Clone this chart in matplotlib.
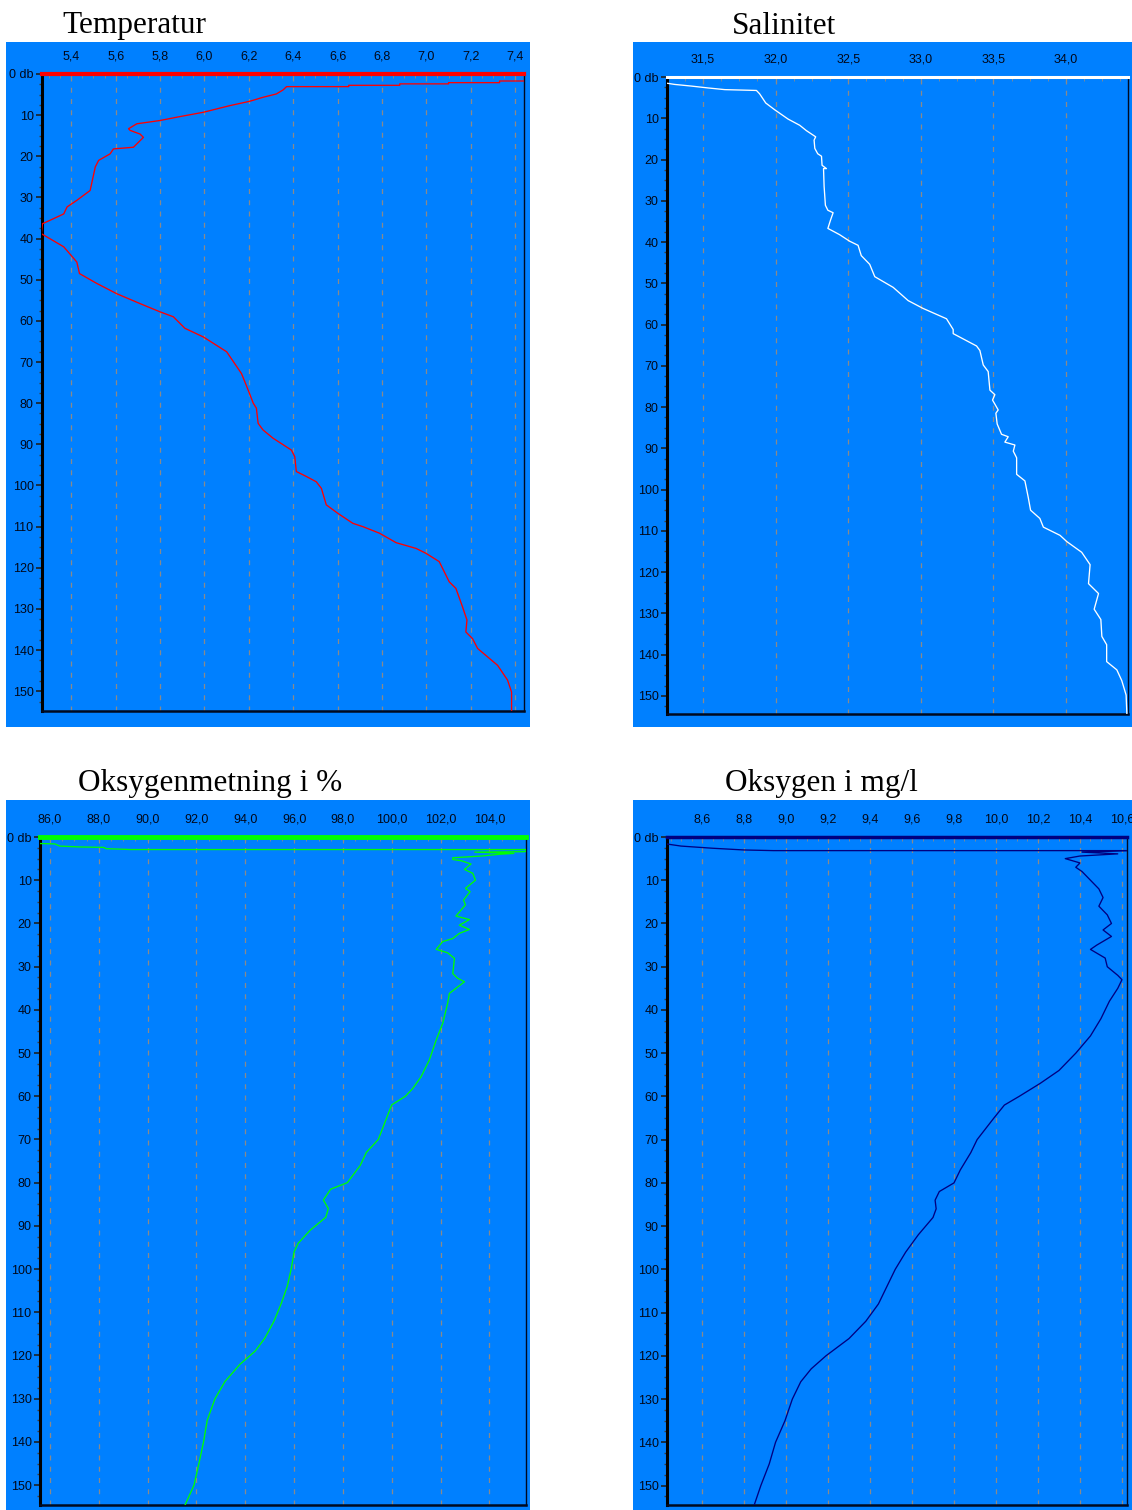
import matplotlib
matplotlib.use("Agg")
import matplotlib.pyplot as plt
from matplotlib import font_manager
from matplotlib.patches import Rectangle
from matplotlib.ticker import FixedLocator, FixedFormatter, MultipleLocator

# ---------------- data ----------------
temp_depth = [1.7, 1.7, 2.1, 2.1, 2.4, 2.4, 2.75, 2.75, 3.07, 3.07, 3.88, 4.85, 5.66, 6.63,
              7.68, 9.3, 10.5, 11.3, 12.1, 13.3, 13.7, 14.6, 15.4, 17.8, 18.2, 19.4, 21.0,
              22.6, 28.3, 30.7, 32.3, 34.0, 36.4, 38.8, 42.0, 45.7, 48.5, 50.9, 53.4, 55.8,
              57.8, 59.0, 61.8, 63.9, 67.5, 72.8, 76.8, 80.0, 81.2, 84.9, 86.5, 88.5, 91.4,
              93.0, 96.6, 97.8, 99.1, 100.7, 104.7, 106.8, 109.2, 110.0, 111.6, 113.9, 115.3,
              116.5, 118.5, 123.4, 125.0, 129.5, 132.7, 135.6, 137.2, 139.6, 143.7, 147.3,
              150.2, 155.0]
temp_value = [7.50, 7.33, 7.33, 7.10, 7.10, 6.88, 6.88, 6.65, 6.65, 6.37, 6.354, 6.324, 6.264,
              6.204, 6.115, 5.995, 5.875, 5.80, 5.695, 5.658, 5.665, 5.71, 5.725, 5.68, 5.59,
              5.575, 5.523, 5.508, 5.485, 5.425, 5.381, 5.366, 5.27, 5.265, 5.366, 5.425,
              5.437, 5.515, 5.605, 5.71, 5.80, 5.86, 5.912, 5.995, 6.10, 6.167, 6.197, 6.22,
              6.234, 6.242, 6.264, 6.309, 6.392, 6.407, 6.414, 6.459, 6.504, 6.527, 6.549,
              6.602, 6.669, 6.714, 6.789, 6.864, 6.954, 6.999, 7.058, 7.103, 7.133, 7.163,
              7.183, 7.178, 7.208, 7.231, 7.321, 7.366, 7.384, 7.384]

sal_depth = [1.5, 1.8, 2.2, 2.65, 3.06, 3.26, 4.08, 6.3, 7.95, 10.2, 11.7, 13.0, 14.5, 15.3,
             17.3, 18.6, 19.2, 21.4, 22.2, 22.2, 26.5, 31.1, 32.3, 32.9, 34.7, 36.7, 38.2,
             39.8, 40.8, 43.3, 45.4, 48.4, 51.0, 54.2, 56.1, 58.6, 61.2, 62.2, 65.2, 66.3,
             69.8, 71.4, 75.9, 77.0, 78.3, 80.7, 81.5, 84.1, 86.6, 87.2, 88.5, 89.2, 90.7,
             92.3, 96.3, 97.9, 101.9, 105.0, 107.0, 109.1, 111.1, 112.6, 115.2, 118.2, 122.8,
             125.2, 129.0, 131.5, 135.6, 137.6, 141.7, 143.7, 146.3, 149.8, 155.0]
sal_value = [31.25, 31.305, 31.42, 31.534, 31.65, 31.868, 31.89, 31.932, 31.994, 32.086,
             32.166, 32.212, 32.276, 32.265, 32.27, 32.29, 32.316, 32.32, 32.35, 32.33,
             32.334, 32.343, 32.36, 32.396, 32.378, 32.36, 32.44, 32.51, 32.568, 32.59,
             32.648, 32.683, 32.81, 32.913, 33.016, 33.177, 33.223, 33.223, 33.384, 33.407,
             33.43, 33.464, 33.476, 33.51, 33.494, 33.533, 33.517, 33.526, 33.556, 33.602,
             33.579, 33.648, 33.637, 33.66, 33.66, 33.717, 33.74, 33.756, 33.82, 33.844,
             33.959, 34.005, 34.108, 34.166, 34.155, 34.224, 34.194, 34.24, 34.247, 34.28,
             34.28, 34.35, 34.384, 34.414, 34.42]

oxs_depth = [1.5, 1.6, 2.1, 2.3, 2.4, 2.7, 2.9, 2.9, 3.4, 3.5, 3.8, 4.0, 4.4, 4.8, 5.2, 5.5,
             6.25, 7.5, 8.4, 10.0, 11.9, 12.65, 14.6, 15.7, 16.9, 18.3, 19.1, 20.4, 21.4,
             22.3, 23.5, 24.2, 26.0, 26.8, 28.1, 31.6, 32.7, 33.5, 36.2, 38.5, 43.1, 47.0,
             51.6, 55.5, 58.2, 60, 62, 64, 70, 73, 76, 80, 81.5, 84, 86, 88, 91, 94, 96,
             100, 104, 108, 112, 116, 119, 122, 126, 130, 135, 140, 145, 150, 155]
oxs_value = [85.55, 86.2, 86.4, 87.2, 88.2, 88.3, 89.3, 105.6, 105.45, 103.4, 105.0, 104.4,
             103.7, 102.5, 102.5, 102.85, 103.25, 102.98, 103.32, 103.43, 103.02, 103.21,
             102.94, 103.02, 102.84, 102.63, 103.18, 102.77, 103.18, 102.77, 102.5, 102.09,
             101.82, 102.29, 102.57, 102.5, 102.7, 102.98, 102.36, 102.29, 102.09, 101.82,
             101.54, 101.2, 100.86, 100.56, 100.0, 99.86, 99.45, 98.96, 98.71, 98.18, 97.5,
             97.2, 97.4, 97.3, 96.66, 96.17, 96.0, 95.88, 95.72, 95.47, 95.18, 94.8, 94.4,
             93.79, 93.17, 92.76, 92.44, 92.29, 92.1, 91.9, 91.5]

oxm_depth = [1.6, 2.1, 2.6, 3.0, 3.15, 3.15, 3.5, 3.9, 4.4, 5.0, 6, 7, 8, 10, 12, 14, 16, 18,
             20, 21.5, 23, 25, 26, 28, 30, 32, 33, 35, 38, 42, 46, 50, 54, 57, 60, 62, 65,
             70, 73, 77, 80, 82, 84, 86, 88, 92, 96, 100, 104, 108, 112, 116, 120, 123, 126,
             130, 135, 140, 145, 150, 155]
oxm_value = [8.43, 8.50, 8.65, 8.80, 8.94, 10.65, 10.41, 10.58, 10.40, 10.33, 10.40, 10.38,
             10.41, 10.45, 10.49, 10.51, 10.49, 10.53, 10.55, 10.51, 10.55, 10.48, 10.45,
             10.52, 10.53, 10.58, 10.60, 10.58, 10.54, 10.50, 10.45, 10.38, 10.30, 10.21,
             10.11, 10.04, 9.99, 9.91, 9.88, 9.83, 9.80, 9.73, 9.71, 9.715, 9.70, 9.63, 9.57,
             9.52, 9.48, 9.44, 9.38, 9.30, 9.19, 9.12, 9.07, 9.03, 8.995, 8.95, 8.92, 8.88,
             8.845]

temp_ticks = [5.4, 5.6, 5.8, 6.0, 6.2, 6.4, 6.6, 6.8, 7.0, 7.2, 7.4]
temp_labels = ["5,4", "5,6", "5,8", "6,0", "6,2", "6,4", "6,6", "6,8", "7,0", "7,2", "7,4"]
sal_ticks = [31.5, 32.0, 32.5, 33.0, 33.5, 34.0]
sal_labels = ["31,5", "32,0", "32,5", "33,0", "33,5", "34,0"]
oxs_ticks = [86, 88, 90, 92, 94, 96, 98, 100, 102, 104]
oxs_labels = ["86,0", "88,0", "90,0", "92,0", "94,0", "96,0", "98,0", "100,0", "102,0", "104,0"]
oxm_ticks = [8.6, 8.8, 9.0, 9.2, 9.4, 9.6, 9.8, 10.0, 10.2, 10.4, 10.6]
oxm_labels = ["8,6", "8,8", "9,0", "9,2", "9,4", "9,6", "9,8", "10,0", "10,2", "10,4", "10,6"]
depth_ticks = [0, 10, 20, 30, 40, 50, 60, 70, 80, 90, 100, 110, 120, 130, 140, 150]
depth_labels = ["0 db"] + [str(d) for d in depth_ticks[1:]]

titles = ["Temperatur", "Salinitet", "Oksygenmetning i %", "Oksygen i mg/l"]

# ---------------- style ----------------
W, H = 1132, 1510
BLUE = "#0080ff"
GRID = "#8a8a8a"
LABEL = "#00081a"

names = {f.name for f in font_manager.fontManager.ttflist}
TICKFONT = "Liberation Sans Narrow" if "Liberation Sans Narrow" in names else "Liberation Sans"
SERIF = "Liberation Serif" if "Liberation Serif" in names else "DejaVu Serif"
TICKSIZE = 10 if TICKFONT == "Liberation Sans Narrow" else 9

fig = plt.figure(figsize=(W / 100, H / 100), dpi=100)


def box(l, t, r, b):
    return [l / W, 1 - b / H, (r - l) / W, (b - t) / H]


def panel(bg, axb, title, title_pos, depth, values, xlim, ymax, ticks, labels, minor,
          color, toplw):
    fig.add_artist(Rectangle((bg[0] / W, 1 - bg[3] / H), (bg[2] - bg[0]) / W,
                             (bg[3] - bg[1]) / H, transform=fig.transFigure,
                             facecolor=BLUE, edgecolor="none", zorder=0))
    fig.text(title_pos[0] / W, 1 - title_pos[1] / H, title, family=SERIF,
             fontsize=22.5, ha="left", va="center", color="black")
    ax = fig.add_axes(box(*axb))
    ax.set_facecolor(BLUE)
    ax.plot(values, depth, color=color, lw=0.95, zorder=3)
    ax.set_xlim(*xlim)
    ax.set_ylim(ymax, 0)
    ax.xaxis.tick_top()
    ax.xaxis.set_major_locator(FixedLocator(ticks))
    ax.xaxis.set_major_formatter(FixedFormatter(labels))
    ax.xaxis.set_minor_locator(MultipleLocator(minor))
    ax.yaxis.set_major_locator(FixedLocator(depth_ticks))
    ax.yaxis.set_major_formatter(FixedFormatter(depth_labels))
    ax.yaxis.set_minor_locator(MultipleLocator(2.5))
    ax.tick_params(axis="x", which="major", direction="in", length=4, color=GRID,
                   pad=8, labelsize=TICKSIZE, labelcolor=LABEL)
    ax.tick_params(axis="x", which="minor", direction="in", length=3, color=GRID)
    ax.tick_params(axis="y", which="major", direction="out", length=4, width=1.2,
                   color="#202020", pad=2, labelsize=TICKSIZE, labelcolor=LABEL)
    ax.tick_params(axis="y", which="minor", direction="out", length=2.5, width=1,
                   color="#404040")
    for lab in ax.get_xticklabels() + ax.get_yticklabels():
        lab.set_family(TICKFONT)
    ax.grid(axis="x", which="major", color=GRID, linestyle=(0, (4, 5)), lw=0.9)
    ax.spines["left"].set_linewidth(2.2)
    ax.spines["left"].set_color("black")
    ax.spines["bottom"].set_linewidth(1.8)
    ax.spines["bottom"].set_color("#000a20")
    ax.spines["right"].set_linewidth(1.0)
    ax.spines["right"].set_color("#000a20")
    ax.spines["top"].set_color(color)
    ax.spines["top"].set_linewidth(toplw)
    ax.spines["top"].set_zorder(5)
    return ax


panel((6, 42, 530, 727), (42, 74, 524, 711), titles[0], (62, 26), temp_depth, temp_value,
      (5.268, 7.44), 154.8, temp_ticks, temp_labels, 0.05, "#ff0000", 3.0)
panel((633, 42, 1132, 727), (667, 77, 1128, 714), titles[1], (732, 26), sal_depth, sal_value,
      (31.252, 34.427), 154.4, sal_ticks, sal_labels, 0.125, "#ffffff", 2.2)
panel((6, 800, 530, 1510), (40, 837, 526, 1505), titles[2], (78, 784), oxs_depth, oxs_value,
      (85.59, 105.5), 154.6, oxs_ticks, oxs_labels, 0.5, "#00ff00", 3.5)
panel((633, 800, 1132, 1510), (667, 837, 1127, 1505), titles[3], (725, 784), oxm_depth,
      oxm_value, (8.433, 10.624), 154.5, oxm_ticks, oxm_labels, 0.05, "#000080", 2.5)

fig.savefig("out.png", dpi=100)
